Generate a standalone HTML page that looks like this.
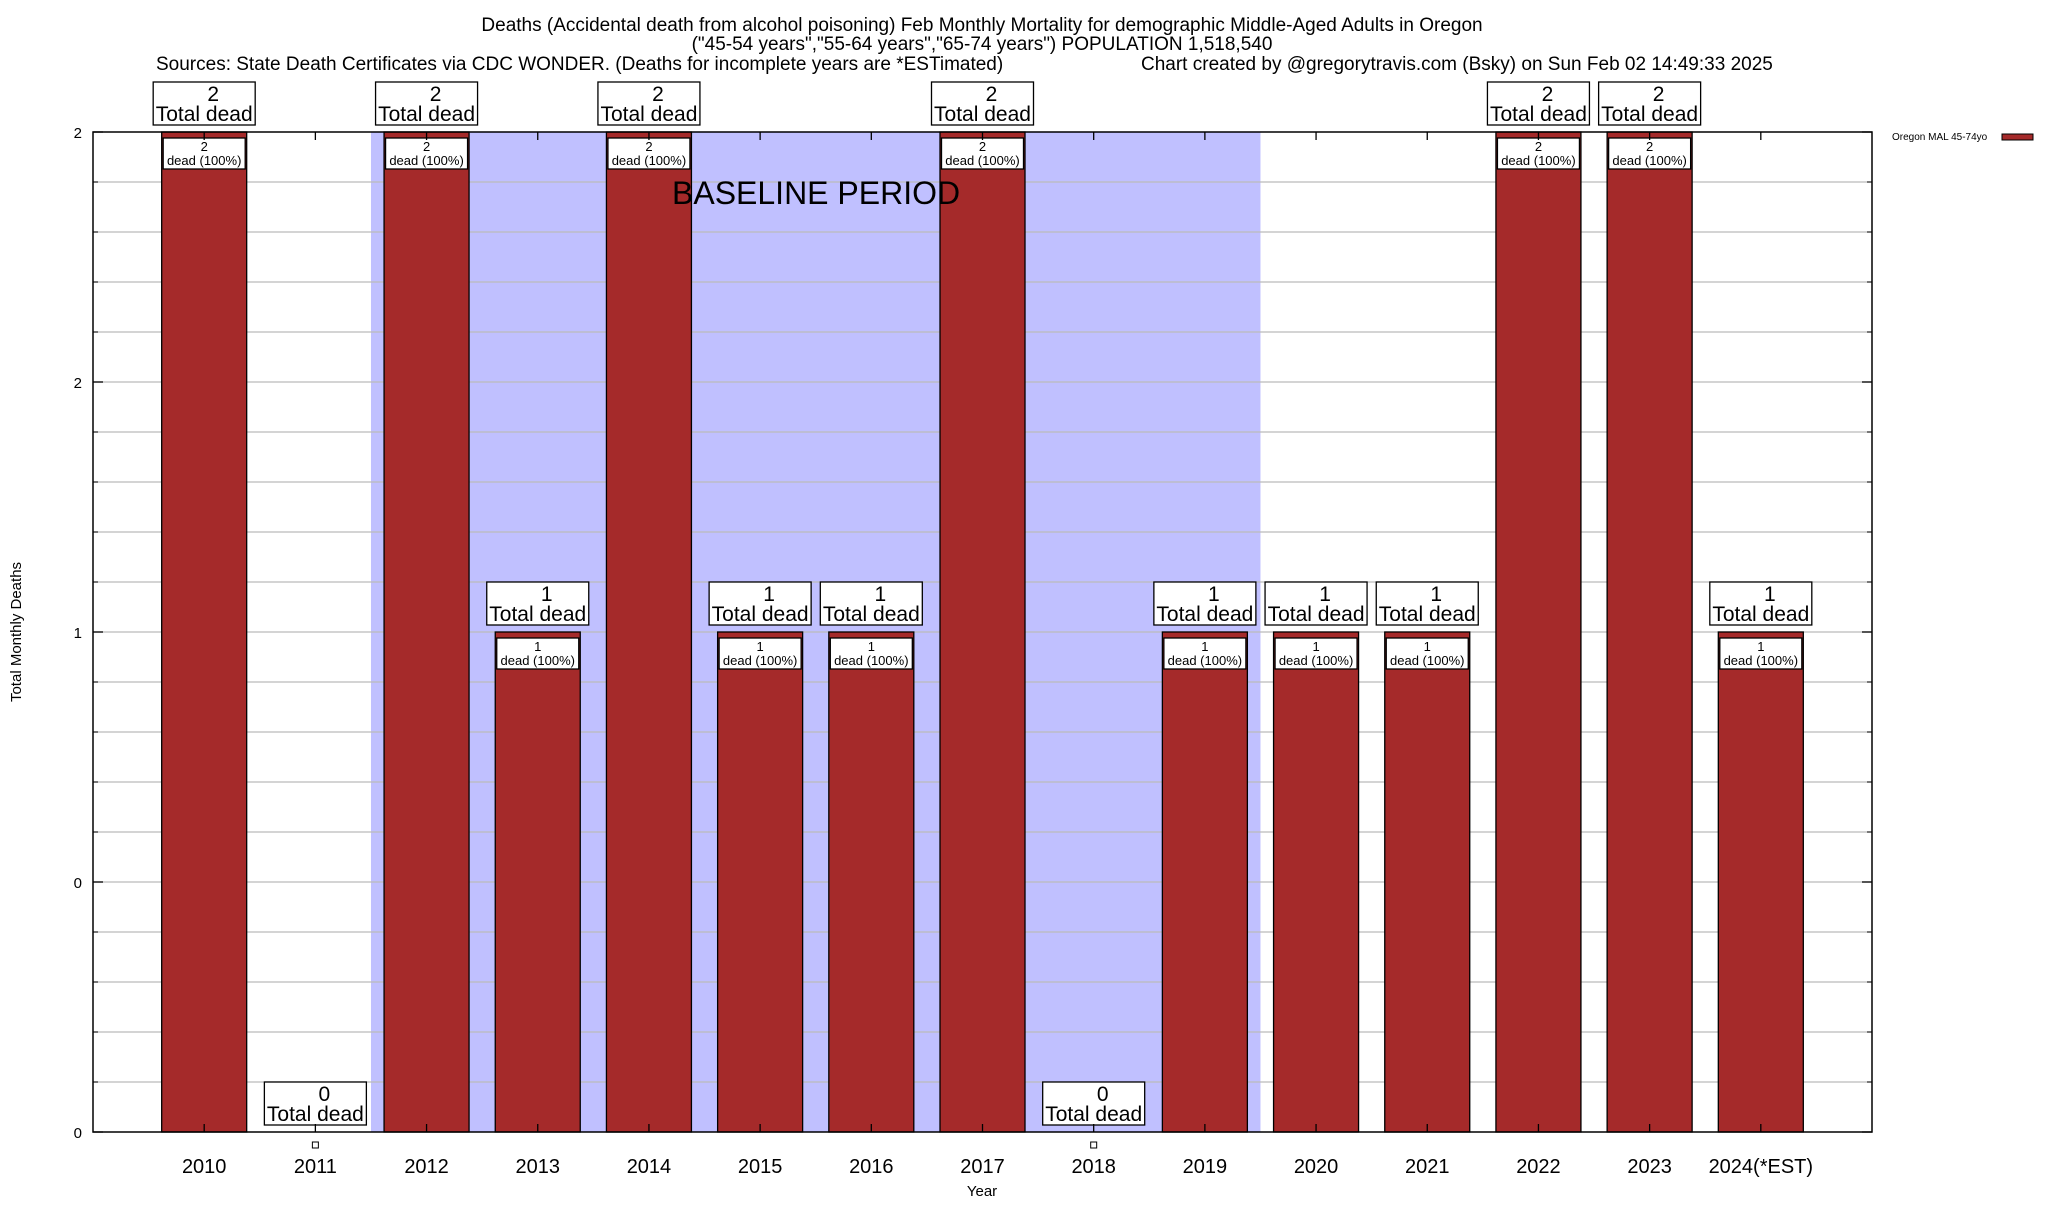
<!DOCTYPE html>
<html><head><meta charset="utf-8"><style>
body{margin:0;background:#fff;}
svg text{font-family:"Liberation Sans",Arial,sans-serif;}
</style></head><body>
<svg id="chart" width="2048" height="1200" viewBox="0 0 2048 1200">
<g>
<text x="982" y="31" font-size="19" text-anchor="middle">Deaths (Accidental death from alcohol poisoning) Feb Monthly Mortality for demographic Middle-Aged Adults in Oregon</text>
<text x="982" y="50" font-size="19" text-anchor="middle">("45-54 years","55-64 years","65-74 years") POPULATION 1,518,540</text>
<text x="156" y="70" font-size="19">Sources: State Death Certificates via CDC WONDER. (Deaths for incomplete years are *ESTimated)</text>
<text x="1141" y="70" font-size="19">Chart created by @gregorytravis.com (Bsky) on Sun Feb 02 14:49:33 2025</text>
</g>
<g id="plot"></g>
<text x="982" y="1196" font-size="15" text-anchor="middle">Year</text>
<text transform="translate(21,632) rotate(-90)" font-size="15" text-anchor="middle">Total Monthly Deaths</text>
<g>
<text x="1892" y="140" font-size="10">Oregon MAL 45-74yo</text>
<rect x="2002" y="134" width="31" height="6" fill="#a52a2a" stroke="#000" stroke-width="1"/>
</g>
</svg>
<script>
const categories=["2010","2011","2012","2013","2014","2015","2016","2017","2018","2019","2020","2021","2022","2023","2024(*EST)"];
const deaths=[2,0,2,1,2,1,1,2,0,1,1,1,2,2,1];
const yTickValues=[0,0.5,1,1.5,2];
const yTickLabels=["0","0","1","2","2"];
const baselineStart="2012", baselineEnd="2019";
const L=93,R=1872,T=132,B=1132;
const slot=(R-L)/16;
const xs=i=>L+(i+1)*slot;
const ys=v=>B-(v/2)*(B-T);
const ns="http://www.w3.org/2000/svg";
const g=document.getElementById('plot');
function mk(t,a,p){const e=document.createElementNS(ns,t);for(const k in a)e.setAttribute(k,a[k]);(p||g).appendChild(e);return e;}
const bs=categories.indexOf(baselineStart)-0.5,be=categories.indexOf(baselineEnd)+0.5;
let sh=mk('rect',{x:xs(bs),y:T,width:xs(be)-xs(bs),height:B-T,fill:"#c0c0ff"});


for(let k=1;k<20;k++){const v=k*0.1;let l=mk('line',{x1:L,x2:R,y1:ys(v),y2:ys(v),stroke:"#bbb","stroke-width":1.3});

}
categories.forEach((c,i)=>{
  const cx=xs(i),v=deaths[i],bw=85;
  if(v>0){
    let r=mk('rect',{x:cx-bw/2,y:ys(v),width:bw,height:B-ys(v),fill:"#a52a2a",stroke:"#000","stroke-width":1.3});
    
    
    let ib=mk('rect',{x:cx-41,y:ys(v)+6,width:82,height:31,fill:"#fff",stroke:"#000","stroke-width":1.3});
    
    
    let t1=mk('text',{x:cx,y:ys(v)+19,"font-size":13,"text-anchor":"middle"});t1.textContent=v;
    let t2=mk('text',{x:cx,y:ys(v)+33,"font-size":13,"text-anchor":"middle"});t2.textContent="dead (100%)";
  } else {
    let m=mk('rect',{x:cx-3,y:B+10,width:6,height:6,fill:"#fff",stroke:"#000","stroke-width":1});
    
    
  }
  const by=ys(v)-50;
  let ob=mk('rect',{x:cx-51,y:by,width:102,height:43,fill:"#fff",stroke:"#000","stroke-width":1.3});
  
  
  let a=mk('text',{x:cx+9,y:by+19,"font-size":21,"text-anchor":"middle"});a.textContent=v;
  let b=mk('text',{x:cx,y:by+39,"font-size":21,"text-anchor":"middle"});b.textContent="Total dead";
  let xl=mk('text',{x:cx,y:B+41,"font-size":20,"text-anchor":"middle"});xl.textContent=c;
  
  
  mk('line',{x1:cx,x2:cx,y1:T,y2:T+8,stroke:"#000","stroke-width":1.3});
  mk('line',{x1:cx,x2:cx,y1:B,y2:B-8,stroke:"#000","stroke-width":1.3});
});
yTickValues.forEach((v,i)=>{
  const y=ys(v);
  let t=mk('text',{x:82,y:y+6,"font-size":15,"text-anchor":"end"});t.textContent=yTickLabels[i];
  
  
  mk('line',{x1:L,x2:L+10,y1:y,y2:y,stroke:"#000","stroke-width":1.3});
  mk('line',{x1:R,x2:R-10,y1:y,y2:y,stroke:"#000","stroke-width":1.3});
});
for(let k=1;k<20;k++){if(k%5){const y=ys(k*0.1);mk('line',{x1:L,x2:L+5,y1:y,y2:y,stroke:"#000"});mk('line',{x1:R,x2:R-5,y1:y,y2:y,stroke:"#000"});}}
let bt=mk('text',{x:672,y:204,"font-size":32});bt.textContent="BASELINE PERIOD";


let fr=mk('rect',{x:L,y:T,width:R-L,height:B-T,fill:"none",stroke:"#000","stroke-width":1.5});


</script>
</body></html>
